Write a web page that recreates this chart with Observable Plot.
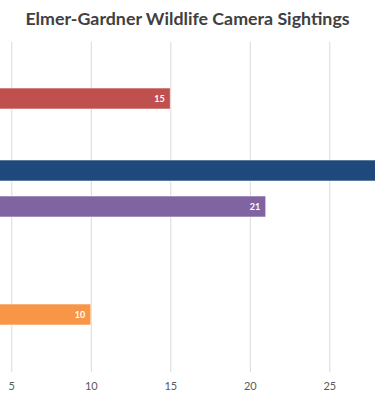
<!DOCTYPE html>
<html>
<head>
<meta charset="utf-8">
<script src="https://cdn.jsdelivr.net/npm/d3@7"></script>
<script src="https://cdn.jsdelivr.net/npm/@observablehq/plot@0.6"></script>
<style>
  html, body { margin: 0; padding: 0; background: #fff; }
  #title { height: 35px; line-height: 36px; text-align: center; font-family: Lato, "Open Sans", sans-serif; font-weight: bold; font-size: 17.8px; color: #404040; white-space: nowrap; }
  #chart svg { display: block; }
</style>
</head>
<body>
<div id="title">Elmer-Gardner Wildlife Camera Sightings</div>
<div id="chart"></div>
<script>
const categories = ["Bobcat", "Raccoon", "Skunk", "Deer", "Fox", "Opossum", "Rabbit", "Coyote", "Squirrel"];
const sightings  = [0, 15, 0, 30, 21, 0, 0, 10, 0];
const barColors  = ["#9BBB59", "#C0504D", "#4BACC6", "#1F497D", "#8064A2", "#4F81BD", "#9BBB59", "#F79646", "#4BACC6"];
const tickValues = [5, 10, 15, 20, 25];

const data = categories.map((c, i) => ({category: c, value: sightings[i], color: barColors[i]}));

const W = 375, H = 365;
const pxPerUnit = 15.9;
const x0 = 11.3 - 5 * pxPerUnit;
// the visible window of the (cropped) chart ends near this value
const visibleMax = (W - x0) / pxPerUnit;

const chart = Plot.plot({
  width: W,
  height: H,
  marginTop: 7,
  marginBottom: 28,
  marginLeft: 0,
  marginRight: 0,
  style: {fontFamily: "Lato, 'Open Sans', sans-serif", background: "#fff"},
  x: {domain: [0, 32], range: [x0, x0 + 32 * pxPerUnit], axis: null, label: null},
  y: {domain: categories, paddingInner: 0.41, paddingOuter: 0.205, axis: null},
  marks: [
    Plot.ruleX(tickValues, {x: d => d, stroke: "#d9d9d9", strokeWidth: 1}),
    Plot.barX(data, {x: "value", y: "category", fill: d => d.color, stroke: "#ffffff", strokeOpacity: 0.55, strokeWidth: 1}),
    Plot.text(data.filter(d => d.value > 0 && d.value < visibleMax), {x: "value", y: "category", text: d => String(d.value), dx: -6, textAnchor: "end", fill: "#ffffff", fontWeight: "bold", fontSize: 9}),
    Plot.axisX(tickValues, {tickSize: 0, tickPadding: 10, fontSize: 11, color: "#595959", label: null})
  ]
});
document.getElementById("chart").appendChild(chart);
</script>
</body>
</html>
